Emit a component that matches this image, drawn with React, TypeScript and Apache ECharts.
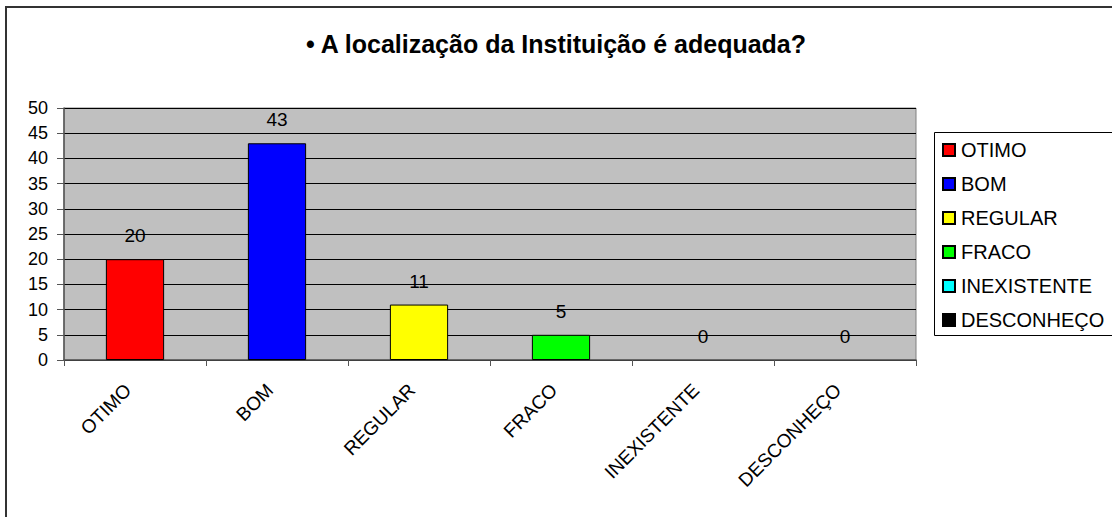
import React, { useEffect, useRef } from "react";
import * as echarts from "echarts";

const categories = ["OTIMO", "BOM", "REGULAR", "FRACO", "INEXISTENTE", "DESCONHEÇO"];
const values = [20, 43, 11, 5, 0, 0];
const colors = ["#ff0000", "#0000ff", "#ffff00", "#00ff00", "#00ffff", "#000000"];
const titleText = "• A localização da Instituição é adequada?";
const FONT = "'Liberation Sans', Arial, sans-serif";

export default function App() {
  const ref = useRef<HTMLDivElement>(null);
  useEffect(() => {
    document.body.style.margin = "0";
    const chart = echarts.init(ref.current!, null, { renderer: "svg" });
    const series = categories.map((name, i) => ({
      name,
      type: "bar",
      stack: "total",
      barWidth: "41%",
      data: values.map((v, j) =>
        j === i ? (v === 0 ? { value: v, itemStyle: { borderWidth: 0 } } : v) : "-"
      ),
      itemStyle: { color: colors[i], borderColor: "#000", borderWidth: 1 },
      label: {
        show: true,
        position: "top",
        distance: 14,
        color: "#000",
        fontSize: 19,
        fontFamily: FONT,
      },
    }));
    chart.setOption({
      animation: false,
      backgroundColor: "#fff",
      title: {
        text: titleText,
        left: "center",
        top: 31,
        padding: 0,
        textStyle: { fontSize: 25, fontWeight: "bold", color: "#000", fontFamily: FONT },
      },
      graphic: [
        {
          type: "rect",
          shape: { x: 6, y: 7, width: 1300, height: 700 },
          style: { fill: "none", stroke: "#333", lineWidth: 2 },
          silent: true,
        },
        {
          type: "rect",
          shape: { x: 934.5, y: 132.5, width: 300, height: 203 },
          style: { fill: "none", stroke: "#000", lineWidth: 1 },
          silent: true,
        },
      ],
      legend: {
        orient: "vertical",
        left: 942,
        top: 140,
        padding: 0,
        itemWidth: 12,
        itemHeight: 12,
        itemGap: 14,
        icon: "rect",
        textStyle: { fontSize: 20, color: "#000", fontFamily: FONT, lineHeight: 20, padding: [0, 0, 0, 1] },
        data: categories,
      },
      grid: {
        left: 64,
        top: 108,
        right: 196,
        bottom: 157,
        show: true,
        backgroundColor: "#c0c0c0",
        borderColor: "#808080",
        borderWidth: 1,
      },
      xAxis: {
        type: "category",
        data: categories,
        axisLine: { show: true, lineStyle: { color: "#555", width: 1.5 } },
        axisTick: { show: true, length: 6, lineStyle: { color: "#555" } },
        axisLabel: {
          rotate: 45,
          fontSize: 19,
          color: "#000",
          fontFamily: FONT,
          margin: 20,
          padding: [0, 10, 0, 0],
          interval: 0,
        },
      },
      yAxis: {
        type: "value",
        min: 0,
        max: 50,
        interval: 5,
        axisLine: { show: true, lineStyle: { color: "#555", width: 1.5 } },
        axisTick: { show: true, length: 7, lineStyle: { color: "#555" } },
        axisLabel: { fontSize: 18, color: "#000", fontFamily: FONT, margin: 16 },
        splitLine: { show: true, lineStyle: { color: "#000", width: 1 } },
      },
      series,
    });
    return () => chart.dispose();
  }, []);
  return <div ref={ref} style={{ width: 1112, height: 517 }} />;
}
